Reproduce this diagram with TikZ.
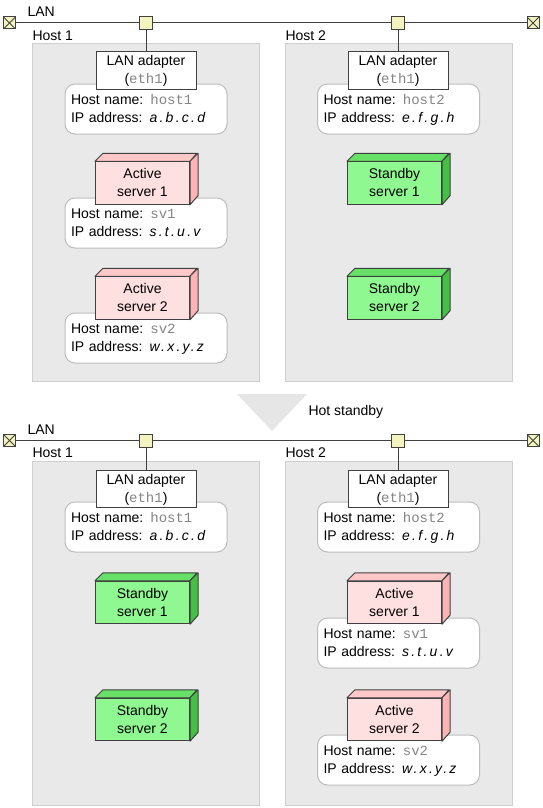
\documentclass[tikz,border=0pt]{standalone}
\usepackage{fontspec}
\setmainfont{Liberation Sans}
\setmonofont{Liberation Mono}
\usetikzlibrary{positioning, calc}

\definecolor{hostgray}{HTML}{E9E9E9}
\definecolor{hostline}{HTML}{CFCFCF}
\definecolor{infoline}{HTML}{BDBDBD}
\definecolor{wiregray}{HTML}{404040}
\definecolor{tapfill}{HTML}{F4F4BE}
\definecolor{activefront}{HTML}{FFE0E0}
\definecolor{activetop}{HTML}{FFC8C8}
\definecolor{activeside}{HTML}{FFB4B4}
\definecolor{standbyfront}{HTML}{90F890}
\definecolor{standbytop}{HTML}{66E066}
\definecolor{standbyside}{HTML}{44C044}
\definecolor{arrowgray}{HTML}{E6E6E6}

\newcommand{\mono}[1]{{\ttfamily\color{black!48}#1}}
\newcommand{\addr}[1]{{\addfontfeature{LetterSpace=16}\itshape #1}}
\newcommand{\topline}{\rule{0pt}{14.4pt}}

\tikzset{
    hostbox/.style={draw=hostline, fill=hostgray, minimum width=227pt, inner sep=0pt},
    adapterbox/.style={draw=wiregray, fill=white, minimum width=100pt, minimum height=37pt, inner sep=0pt, align=center},
    infobox/.style={draw=infoline, fill=white, rounded corners=10pt, minimum width=162pt, minimum height=50pt, inner sep=6pt, text width=150pt, align=left},
    tapbox/.style={draw=wiregray, fill=tapfill, minimum size=13pt, inner sep=0pt},
    endbox/.style={tapbox, minimum size=12pt, path picture={
        \draw[wiregray] (path picture bounding box.north west) -- (path picture bounding box.south east);
        \draw[wiregray] (path picture bounding box.north east) -- (path picture bounding box.south west);}},
    serverbox/.style n args={3}{draw=wiregray, fill=#1, minimum width=94pt, minimum height=42.5pt, inner sep=0pt, align=center,
        append after command={\pgfextra{
            \filldraw[draw=wiregray, fill=#2, line join=round] (\tikzlastnode.north west) -- ++(8,-8) -- ++(94,0) -- (\tikzlastnode.north east) -- cycle;
            \filldraw[draw=wiregray, fill=#3, line join=round] (\tikzlastnode.north east) -- ++(8,-8) -- ++(0,42.5) -- (\tikzlastnode.south east) -- cycle;
        }}},
    activebox/.style={serverbox={activefront}{activetop}{activeside}},
    standbybox/.style={serverbox={standbyfront}{standbytop}{standbyside}},
    plainlabel/.style={inner sep=0pt, anchor=west}
}

\begin{document}
\begin{tikzpicture}[x=1pt, y=-1pt, line width=1pt, font=\fontsize{14}{18}\selectfont]
    \useasboundingbox (0, 0) rectangle (543, 808);

    % Upper half: before the hot standby
    \node[plainlabel] (lanUp) at (27, 12) {LAN};
    \node[hostbox, minimum height=337pt] (hostUpA) at (145.5, 212.5) {};
    \node[hostbox, minimum height=337pt] (hostUpB) at (398.5, 212.5) {};
    \node[plainlabel] (hostUpAlabel) at (32, 36) {Host 1};
    \node[plainlabel] (hostUpBlabel) at (285, 36) {Host 2};

    % LAN line of the upper half
    \node[endbox] (endUpA) at (9.5, 23) {};
    \node[endbox] (endUpB) at (533, 23) {};
    \node[tapbox] (tapUpA) at (146, 23) {};
    \node[tapbox] (tapUpB) at (398, 23) {};
    \draw[wiregray] (endUpA) -- (tapUpA) -- (tapUpB) -- (endUpB);

    % Host 1, upper half
    \node[infobox] (infoUpA) at (146, 109) {\topline Host name: \mono{host1}\\IP address: \addr{a.b.c.d}\strut};
    \node[adapterbox] (adapterUpA) at (146, 70.5) {\topline LAN adapter\\(\mono{eth1})\strut};
    \draw[wiregray] (tapUpA) -- (adapterUpA);
    \node[infobox] (infoUpB) at (146, 223) {\topline Host name: \mono{sv1}\\IP address: \addr{s.t.u.v}\strut};
    \node[activebox] (serverUpA) at (142.5, 183) {\topline Active\\server 1\strut};
    \node[infobox] (infoUpC) at (146, 338) {\topline Host name: \mono{sv2}\\IP address: \addr{w.x.y.z}\strut};
    \node[activebox] (serverUpB) at (142.5, 298) {\topline Active\\server 2\strut};

    % Host 2, upper half
    \node[infobox] (infoUpD) at (398.5, 109) {\topline Host name: \mono{host2}\\IP address: \addr{e.f.g.h}\strut};
    \node[adapterbox] (adapterUpB) at (398, 70.5) {\topline LAN adapter\\(\mono{eth1})\strut};
    \draw[wiregray] (tapUpB) -- (adapterUpB);
    \node[standbybox] (serverUpC) at (394.5, 183) {\topline Standby\\server 1\strut};
    \node[standbybox] (serverUpD) at (394.5, 298) {\topline Standby\\server 2\strut};

    % Arrow between the two halves
    \fill[arrowgray] (237, 394) -- (307, 394) -- (272, 431) -- cycle;
    \node[plainlabel] (hotStandby) at (308, 412) {Hot standby};

    % Lower half: after the hot standby
    \node[plainlabel] (lanDown) at (27, 430) {LAN};
    \node[hostbox, minimum height=344.5pt] (hostDownA) at (145.5, 633.5) {};
    \node[hostbox, minimum height=344.5pt] (hostDownB) at (398.5, 633.5) {};
    \node[plainlabel] (hostDownAlabel) at (32, 453) {Host 1};
    \node[plainlabel] (hostDownBlabel) at (285, 453) {Host 2};

    % LAN line of the lower half
    \node[endbox] (endDownA) at (9.5, 440.5) {};
    \node[endbox] (endDownB) at (533, 440.5) {};
    \node[tapbox] (tapDownA) at (146, 440.5) {};
    \node[tapbox] (tapDownB) at (398, 440.5) {};
    \draw[wiregray] (endDownA) -- (tapDownA) -- (tapDownB) -- (endDownB);

    % Host 1, lower half
    \node[infobox] (infoDownA) at (146, 527) {\topline Host name: \mono{host1}\\IP address: \addr{a.b.c.d}\strut};
    \node[adapterbox] (adapterDownA) at (146, 489) {\topline LAN adapter\\(\mono{eth1})\strut};
    \draw[wiregray] (tapDownA) -- (adapterDownA);
    \node[standbybox] (serverDownA) at (142.5, 602.5) {\topline Standby\\server 1\strut};
    \node[standbybox] (serverDownB) at (142.5, 719.5) {\topline Standby\\server 2\strut};

    % Host 2, lower half
    \node[infobox] (infoDownB) at (398.5, 527) {\topline Host name: \mono{host2}\\IP address: \addr{e.f.g.h}\strut};
    \node[adapterbox] (adapterDownB) at (398, 489) {\topline LAN adapter\\(\mono{eth1})\strut};
    \draw[wiregray] (tapDownB) -- (adapterDownB);
    \node[infobox] (infoDownC) at (398.5, 643) {\topline Host name: \mono{sv1}\\IP address: \addr{s.t.u.v}\strut};
    \node[activebox] (serverDownC) at (394.5, 602.5) {\topline Active\\server 1\strut};
    \node[infobox] (infoDownD) at (398.5, 760) {\topline Host name: \mono{sv2}\\IP address: \addr{w.x.y.z}\strut};
    \node[activebox] (serverDownD) at (394.5, 719.5) {\topline Active\\server 2\strut};
\end{tikzpicture}
\end{document}
